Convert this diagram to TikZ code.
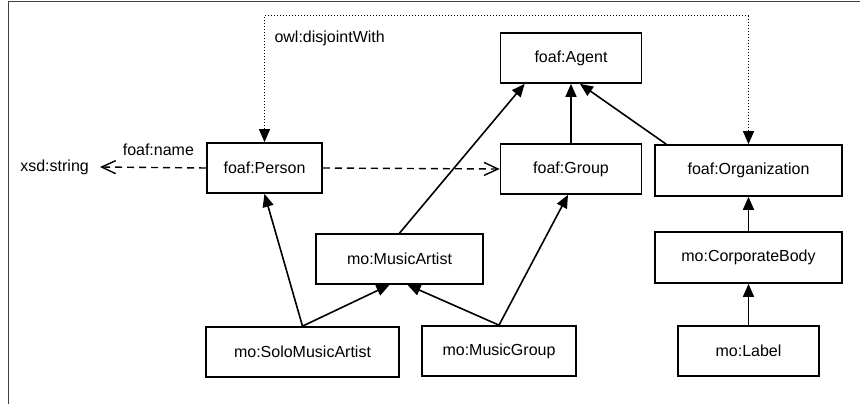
\documentclass[tikz,border=0pt]{standalone}
\usepackage{fontspec}
\setmainfont{Liberation Sans}
\usepackage{tikz}
\usetikzlibrary{arrows.meta}

\begin{document}
\begin{tikzpicture}[x=1pt, y=-1pt]
% Style definitions
\tikzset{
    class/.style={draw, line width=1.7pt, minimum height=50pt, font=\fontsize{16}{19}\selectfont,
                  inner sep=0pt},
    plain/.style={font=\fontsize{16}{19}\selectfont},
    isa/.style={line width=1.6pt, -{Triangle[length=13pt, width=11pt]}},
    prop/.style={line width=1.4pt, dash pattern=on 7pt off 5pt,
                 -{Straight Barb[length=14pt, width=13pt]}},
    disjoint/.style={line width=1pt, dash pattern=on 1pt off 2pt,
                     {Triangle[length=13pt, width=11pt]}-{Triangle[length=13pt, width=11pt]}}
}
\useasboundingbox (0,0) rectangle (860,404);

% Frame
\draw[black!75, line width=1pt] (8,404) -- (8,2) -- (860,2);

% FOAF classes
\node[class, minimum width=141pt] (agent) at (571,58) {foaf:Agent};
\node[class, minimum width=115pt] (person) at (264.5,168) {foaf:Person};
\node[class, minimum width=141pt] (group) at (571,169) {foaf:Group};
\node[class, minimum width=187pt, minimum height=51pt] (org) at (748.5,170.5) {foaf:Organization};

% Music ontology classes
\node[class, minimum width=167pt] (artist) at (399.5,259) {mo:MusicArtist};
\node[class, minimum width=193pt] (solo) at (302.5,352) {mo:SoloMusicArtist};
\node[class, minimum width=154pt] (mgroup) at (499,351) {mo:MusicGroup};
\node[class, minimum width=187pt, minimum height=51pt] (corp) at (748.5,257.5) {mo:CorporateBody};
\node[class, minimum width=141pt] (label) at (748.5,351) {mo:Label};

% Datatype and labels
\node[plain, anchor=east, inner xsep=11pt] (xsd) at (100,167) {xsd:string};
\node[plain, anchor=north west] (disjlabel) at (271,27) {owl:disjointWith};
\coordinate (topline) at (0,16);

% Subclass arrows
\draw[isa] (group) -- (agent);
\draw[isa] ([xshift=12pt]org.north west) -- ([xshift=9pt]agent.south);
\draw[isa] (artist.north) -- ([xshift=25pt]agent.south west);
\draw[isa] (solo.north) -- (person.south);
\draw[isa] (solo.north) -- ([xshift=-10pt]artist.south);
\draw[isa] (mgroup.north) -- ([xshift=8pt]artist.south);
\draw[isa] (mgroup.north) -- ([xshift=-3pt]group.south);
\draw[isa] (corp) -- (org);
\draw[isa] (label) -- (corp);

% Properties
\draw[prop] (person.east) -- (group.west);
\draw[prop] (person.west) -- node[plain, pos=0.45, above=8pt] (namelabel) {foaf:name} (xsd.east);
\draw[disjoint] (person.north) -- (person.north |- topline) -- (org.north |- topline) -- (org.north);

\end{tikzpicture}
\end{document}
